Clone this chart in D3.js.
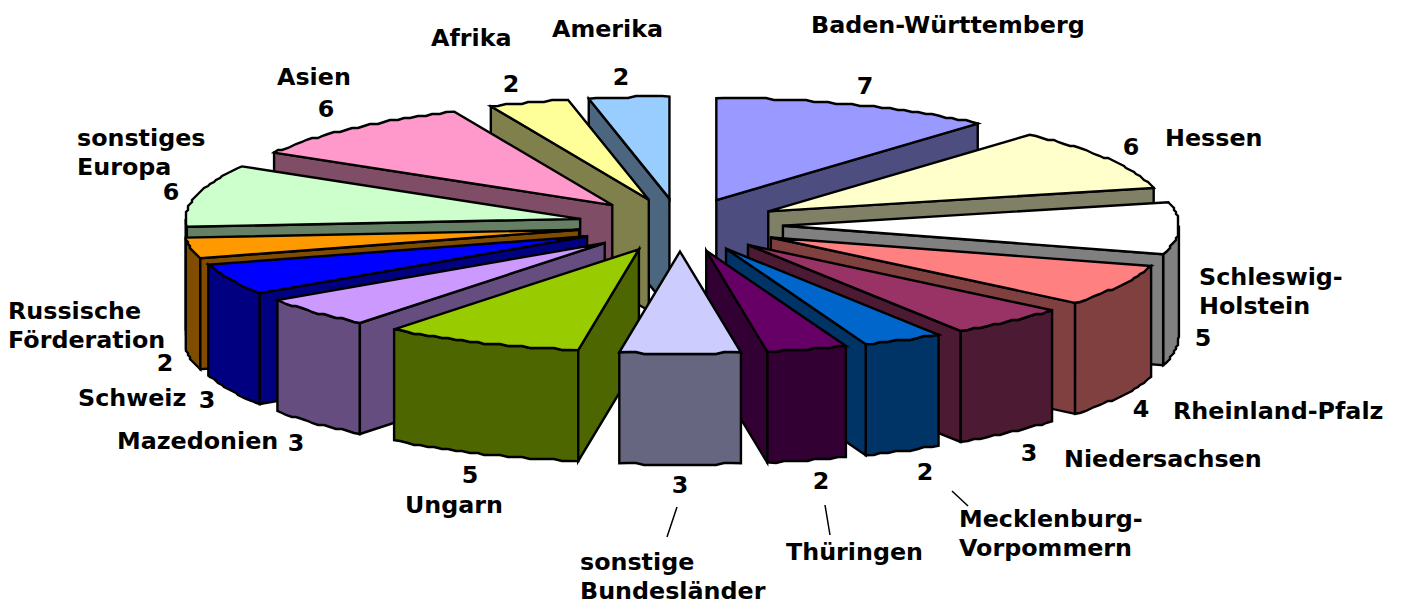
<!DOCTYPE html>
<html lang="de">
<head>
<meta charset="utf-8">
<script src="https://cdn.jsdelivr.net/npm/d3@7/dist/d3.min.js"></script>
<style>
html,body{margin:0;padding:0;background:#fff;overflow:hidden}
text{font-family:"DejaVu Sans",Verdana,sans-serif;font-weight:700;font-size:23.8px;fill:#000}
</style>
</head>
<body>
<svg id="chart" width="1405" height="603"></svg>
<script>
// --- data ---
const categories = ["Baden-Württemberg","Hessen","Schleswig-\nHolstein","Rheinland-Pfalz","Niedersachsen",
  "Mecklenburg-\nVorpommern","Thüringen","sonstige\nBundesländer","Ungarn","Mazedonien","Schweiz",
  "Russische\nFörderation","sonstiges\nEuropa","Asien","Afrika","Amerika"];
const values = [7,6,5,4,3,2,2,3,5,3,3,2,6,6,2,2];
const colors = ["#9999FF","#FFFFCC","#FFFFFF","#FF8080","#993366","#0066CC","#660066","#CCCCFF",
  "#99CC00","#CC99FF","#0000FF","#FF9900","#CCFFCC","#FF99CC","#FFFF99","#99CCFF"];

// --- layout ---
const CX = 680, CY = 225, RX_LEFT = 394.5, RX_RIGHT = 396, RY = 102, DEPTH = 111, EXPLODE = 0.26, GRID = 2;
const namePos = [[811,33],[1165,146],[1199,285],[1173,419],[1064,467],[959,527],[786,560],[580,570],
  [405,513],[117,449],[78,406],[8,319],[77,146],[277,85],[431,46],[552,37]];
const valuePos = [[865,94],[1131,155],[1203,346],[1141,417],[1029,461],[925,480],[821,489],[680,493],
  [470,483],[296,451],[207,408],[165,371],[171,200],[326,117],[511,92],[621,85]];
const leaders = [[[677,507],[667,537]],[[825,505],[830,535]],[[952,491],[968,506]]];
const LINE_H = 28.5;

const svg = d3.select("#chart");
const x = d3.scaleLinear().domain([-1,0,1]).range([CX-RX_LEFT, CX, CX+RX_RIGHT]).clamp(false);
const y = d3.scaleLinear().domain([-1,1]).range([CY-RY, CY+RY]);
const px = a => Math.sin(a), py = a => -Math.cos(a);
const snap = v => Math.round(v/GRID)*GRID;
const line = d3.line();

const arcs = d3.pie().sort(null).startAngle(0).endAngle(2*Math.PI).value(d=>d.value)(
  categories.map((name,i)=>({name,value:values[i],color:colors[i]})));

const midAngle = d => (d.startAngle+d.endAngle)/2;
function arcPoints(d, a0, a1){
  const ox = EXPLODE*px(midAngle(d)), oy = EXPLODE*py(midAngle(d));
  const n = Math.max(2, Math.ceil((a1-a0)/(1.2*Math.PI/180)));
  return d3.range(n+1).map(k=>{
    const a = a0+(a1-a0)*k/n;
    const X = x(px(a)+ox), Y = y(py(a)+oy);
    return (k===0||k===n) ? [X,Y] : [snap(X),snap(Y)];
  });
}
const apex = d => [x(EXPLODE*px(midAngle(d))), y(EXPLODE*py(midAngle(d)))];
const down = p => [p[0], p[1]+DEPTH];
const order = arcs.slice().sort((a,b)=> Math.cos(midAngle(b)) - Math.cos(midAngle(a)));

const sl = svg.append("g").attr("stroke","#000").attr("stroke-width",2.4).attr("stroke-linejoin","miter")
  .selectAll("g").data(order).join("g");

sl.each(function(d){
  const g = d3.select(this);
  const c = d3.rgb(d.data.color);
  const wall = d3.rgb(c.r*0.5,c.g*0.5,c.b*0.5).formatHex();
  const A = apex(d);
  const a0 = d.startAngle, a1 = d.endAngle;
  const face = pts => g.append("path").attr("fill",wall).attr("d",line(pts)+"Z");
  // outer wall (front half only)
  const lo = Math.max(a0,Math.PI/2), hi = Math.min(a1,3*Math.PI/2);
  if(hi>lo){
    const t = arcPoints(d,lo,hi);
    face(t.concat(t.map(down).reverse()));
  }
  // radial walls that face the viewer
  if(Math.sin(a0)<0){ const e = arcPoints(d,a0,a1)[0]; face([A,e,down(e),down(A)]); }
  if(Math.sin(a1)>0){ const e = arcPoints(d,a0,a1).slice(-1)[0]; face([A,e,down(e),down(A)]); }
  // top
  g.append("path").attr("fill",d.data.color).attr("d",line([A].concat(arcPoints(d,a0,a1)))+"Z");
});

// labels
const lab = svg.append("g");
arcs.forEach((d,i)=>{
  d.data.name.split("\n").forEach((t,k)=>{
    lab.append("text").attr("x",namePos[i][0]).attr("y",namePos[i][1]+k*LINE_H).text(t);
  });
  lab.append("text").attr("x",valuePos[i][0]).attr("y",valuePos[i][1]).attr("text-anchor","middle").text(d.data.value);
});
svg.append("g").attr("stroke","#000").attr("stroke-width",1.5).attr("fill","none")
  .selectAll("path").data(leaders).join("path").attr("d",d=>line(d));
</script>
</body>
</html>
